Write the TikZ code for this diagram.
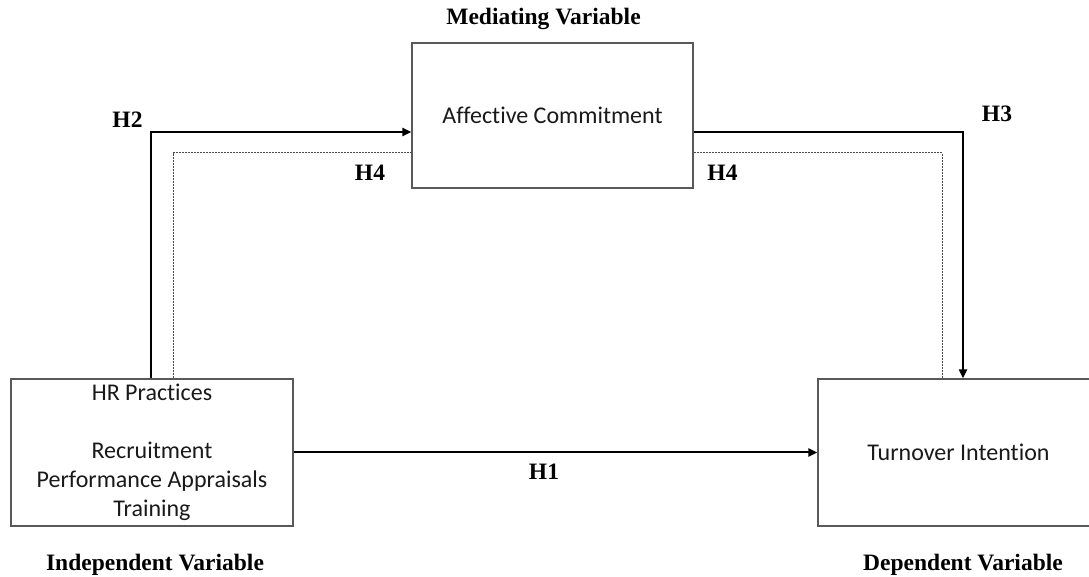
\documentclass[tikz,border=0pt]{standalone}
\usepackage{fontspec}
\setmainfont{Liberation Serif}
\newfontfamily\boxfont[Ligatures=CommonOff]{Carlito}
\usetikzlibrary{arrows.meta}

\begin{document}
\begin{tikzpicture}[x=1pt,y=1pt,
        varbox/.style={draw=black!65,line width=1.2pt,inner sep=0pt,align=center,
            font=\boxfont\fontsize{24}{29}\selectfont,text=black!90},
        hyp/.style={font=\bfseries\fontsize{23.5}{28}\selectfont,anchor=base},
        path/.style={line width=2pt,-{Triangle[length=9pt,width=8pt]}},
        mediation/.style={line width=1pt,black!70,dash pattern=on 2pt off 1pt}]
        \useasboundingbox (0,0) rectangle (1089,577);
        % the three variables
        \node[varbox,minimum width=282pt,minimum height=147pt] (hr) at (152,124.5)
            {HR Practices\\[29pt]Recruitment\\Performance Appraisals\\Training};
        \node[varbox,minimum width=281pt,minimum height=145pt] (ac) at (552.5,461.5)
            {Affective Commitment};
        \node[varbox,minimum width=281pt,minimum height=147pt] (ti) at (958.5,124.5)
            {Turnover Intention};
        % hypotheses
        \draw[path] ([xshift=-1pt]hr.north) |- ([yshift=-16.5pt]ac.west);
        \draw[path] ([yshift=-16.5pt]ac.east) -| ([xshift=4.5pt]ti.north);
        \draw[path] (hr.east) -- (ti.west);
        \draw[mediation] ([xshift=21pt]hr.north) |- ([yshift=-37.5pt]ac.west);
        \draw[mediation] ([yshift=-37.5pt]ac.east) -| ([xshift=-16.5pt]ti.north);
        % labels
        \node[hyp] (mv) at (543.5,552) {Mediating Variable};
        \node[hyp] (iv) at (155,6) {Independent Variable};
        \node[hyp] (dv) at (963,6) {Dependent Variable};
        \node[hyp] (h1) at (544,97) {H1};
        \node[hyp] (h2) at (127.5,449) {H2};
        \node[hyp] (h3) at (997,455) {H3};
        \node[hyp] (h4a) at (370,396) {H4};
        \node[hyp] (h4b) at (722.5,396) {H4};
\end{tikzpicture}
\end{document}
